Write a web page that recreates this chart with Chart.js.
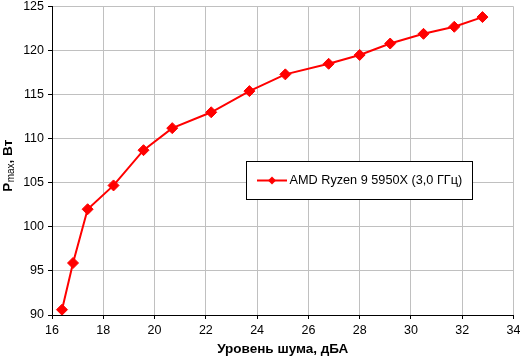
<!DOCTYPE html>
<html>
<head>
<meta charset="utf-8">
<script src="https://cdn.jsdelivr.net/npm/chart.js@4/dist/chart.umd.min.js"></script>
<style>
html,body{margin:0;padding:0;background:#fff;}
#wrap{width:520px;height:357px;}
</style>
</head>
<body>
<div id="wrap"><canvas id="c" width="520" height="357"></canvas></div>
<script>
const seriesLabel = 'AMD Ryzen 9 5950X (3,0 ГГц)';
const noiseDBA = [16.39, 16.82, 17.39, 18.40, 19.57, 20.69, 22.21, 23.70, 25.10, 26.79, 28.00, 29.19, 30.49, 31.69, 32.79];
const powerW   = [90.6, 95.9, 102.0, 104.7, 108.7, 111.2, 113.0, 115.4, 117.3, 118.5, 119.5, 120.8, 121.9, 122.7, 123.8];
const xTitle = 'Уровень шума, дБА';
const yTitleMain = 'P';
const yTitleSub = 'max';
const yTitleRest = ', Вт';

const FONT = '"Liberation Sans", Arial, sans-serif';

const yTitlePlugin = {
  id: 'yTitle',
  afterDraw(chart) {
    const ctx = chart.ctx;
    const cy = 166, cx = 8;
    ctx.save();
    ctx.translate(cx, cy);
    ctx.rotate(-Math.PI / 2);
    ctx.fillStyle = '#000';
    ctx.textBaseline = 'middle';
    const fMain = 'bold 13.5px ' + FONT;
    const fSub = '10px ' + FONT;
    ctx.font = fMain; const w1 = ctx.measureText(yTitleMain).width;
    const w3 = ctx.measureText(yTitleRest).width;
    ctx.font = fSub; const w2 = ctx.measureText(yTitleSub).width;
    let x = -(w1 + w2 + w3) / 2;
    ctx.font = fMain; ctx.textAlign = 'left';
    ctx.fillText(yTitleMain, x, 0); x += w1 + 0.5;
    ctx.font = fSub; ctx.fillText(yTitleSub, x, 3); x += w2;
    ctx.font = fMain; ctx.fillText(yTitleRest, x, 0);
    ctx.restore();
  }
};

const legendPlugin = {
  id: 'boxLegend',
  afterDraw(chart) {
    const ctx = chart.ctx;
    const ds = chart.data.datasets[0];
    const bx = 246.5, by = 161.5, bw = 226, bh = 38;
    ctx.save();
    ctx.fillStyle = '#fff';
    ctx.fillRect(bx, by, bw, bh);
    ctx.strokeStyle = '#000';
    ctx.lineWidth = 1;
    ctx.strokeRect(bx, by, bw, bh);
    const ly = 180.5;
    ctx.strokeStyle = ds.borderColor;
    ctx.lineWidth = 2;
    ctx.beginPath(); ctx.moveTo(257, ly); ctx.lineTo(287, ly); ctx.stroke();
    ctx.fillStyle = ds.borderColor;
    ctx.beginPath();
    const r = 4;
    ctx.moveTo(272, ly - r); ctx.lineTo(272 + r, ly); ctx.lineTo(272, ly + r); ctx.lineTo(272 - r, ly);
    ctx.closePath(); ctx.fill();
    ctx.fillStyle = '#000';
    ctx.font = '12.7px ' + FONT;
    ctx.textBaseline = 'middle';
    ctx.textAlign = 'left';
    ctx.fillText(ds.label, 289.5, ly);
    ctx.restore();
  }
};

new Chart(document.getElementById('c'), {
  type: 'line',
  data: {
    datasets: [{
      label: seriesLabel,
      data: noiseDBA.map((x, i) => ({x: x, y: powerW[i]})),
      borderColor: '#ff0000',
      backgroundColor: '#ff0000',
      borderWidth: 2,
      pointStyle: 'rectRot',
      pointRadius: 5.5,
      pointBorderWidth: 1,
      pointBackgroundColor: '#ff0000',
      pointBorderColor: '#ff0000',
      tension: 0,
      fill: false
    }]
  },
  options: {
    responsive: false,
    animation: false,
    events: [],
    layout: { padding: { left: 0, right: 6, top: 5, bottom: 0 } },
    plugins: { legend: { display: false }, tooltip: { enabled: false }, title: { display: false } },
    scales: {
      x: {
        type: 'linear',
        min: 16, max: 34,
        ticks: { stepSize: 2, color: '#000', font: { family: FONT, size: 12.5 }, padding: 4, maxRotation: 0 },
        grid: { color: '#c0c0c0', lineWidth: 1, tickColor: '#000', tickLength: 4 },
        border: { color: '#000', width: 1 },
        title: { display: true, text: xTitle, color: '#000', font: { family: FONT, size: 13.5, weight: 'bold' }, padding: { top: 0, bottom: 0 } },
        afterFit(s) { s.height = 42; s.paddingLeft = 0; s.paddingRight = 0; }
      },
      y: {
        type: 'linear',
        min: 90, max: 125,
        ticks: { stepSize: 5, color: '#000', font: { family: FONT, size: 12.5 }, padding: 4 },
        grid: { color: '#c0c0c0', lineWidth: 1, tickColor: '#000', tickLength: 4 },
        border: { color: '#000', width: 1 },
        afterFit(s) { s.width = 52; s.paddingTop = 0; s.paddingBottom = 0; }
      }
    }
  },
  plugins: [yTitlePlugin, legendPlugin]
});
</script>
</body>
</html>
